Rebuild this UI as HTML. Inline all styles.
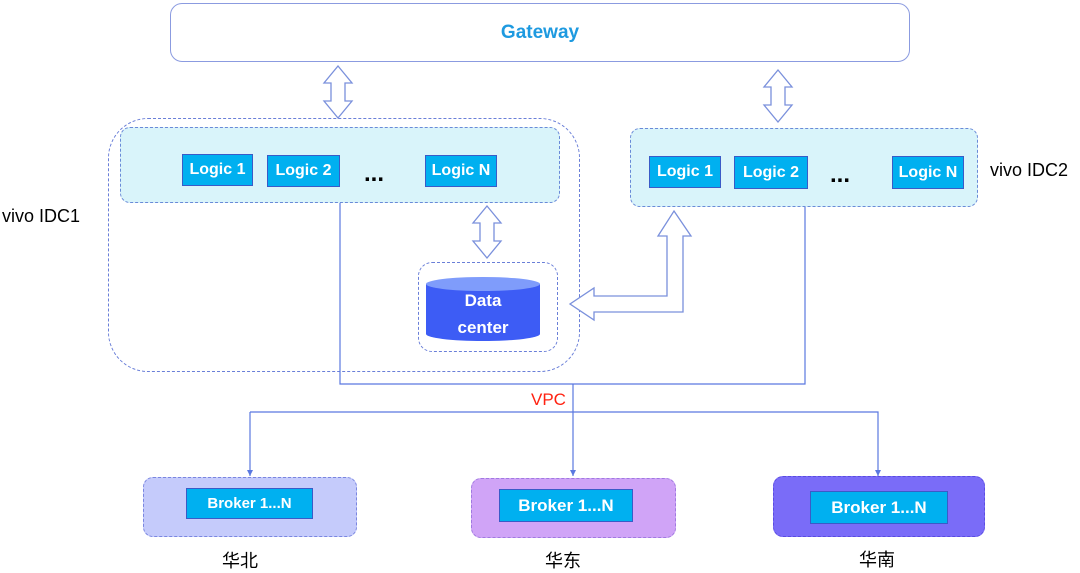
<!DOCTYPE html>
<html><head><meta charset="utf-8"><style>
body{margin:0;width:1080px;height:573px;background:#fff;position:relative;overflow:hidden;font-family:"Liberation Sans","Noto Sans CJK SC",sans-serif}
.a{position:absolute;box-sizing:border-box}
.lg{position:absolute;box-sizing:border-box;background:#00b0f0;border:1px solid #3a5bc7;color:#fff;font-weight:bold;font-size:16px;display:flex;align-items:center;justify-content:center}
.t{position:absolute;white-space:nowrap}
</style></head><body>
<div class="a" style="left:170px;top:3px;width:740px;height:59px;border:1px solid #8b9be0;border-radius:12px"></div>
<div class="t" style="left:0;width:1080px;top:22px;text-align:center;color:#1e9ae0;font-weight:bold;font-size:19px">Gateway</div>

<div class="a" style="left:108px;top:118px;width:472px;height:254px;border:1px dashed #6a7fd8;border-radius:40px"></div>
<div class="a" style="left:120px;top:127px;width:440px;height:76px;border:1px dashed #6a8ad8;border-radius:10px;background:#d9f4fa"></div>
<div class="lg" style="left:182px;top:154px;width:71px;height:32px">Logic 1</div>
<div class="lg" style="left:267px;top:155px;width:73px;height:32px">Logic 2</div>
<div class="t" style="left:364px;top:160px;font-size:24px;font-weight:bold">...</div>
<div class="lg" style="left:425px;top:155px;width:72px;height:32px">Logic N</div>

<div class="a" style="left:418px;top:262px;width:140px;height:90px;border:1px dashed #6a7fd8;border-radius:14px"></div>

<div class="a" style="left:630px;top:128px;width:348px;height:79px;border:1px dashed #6a8ad8;border-radius:10px;background:#d9f4fa"></div>
<div class="lg" style="left:649px;top:156px;width:72px;height:32px">Logic 1</div>
<div class="lg" style="left:734px;top:156px;width:74px;height:33px">Logic 2</div>
<div class="t" style="left:830px;top:161px;font-size:24px;font-weight:bold">...</div>
<div class="lg" style="left:892px;top:156px;width:72px;height:33px">Logic N</div>

<div class="t" style="left:990px;top:160px;font-size:18px">vivo IDC2</div>
<div class="t" style="left:2px;top:206px;font-size:18px">vivo IDC1</div>

<svg class="a" style="left:0;top:0" width="1080" height="573">
<defs><marker id="m" markerWidth="6" markerHeight="6" refX="6" refY="3" orient="auto" markerUnits="userSpaceOnUse"><path d="M0,0 L6,3 L0,6 z" fill="#5a78e0"/></marker></defs>
<g fill="#fff" stroke="#7a90dc" stroke-width="1.3">
<polygon points="338,66 352,83 345,83 345,101 352,101 338,118 324,101 331,101 331,83 324,83"/>
<polygon points="778,70 792,87 785,87 785,105 792,105 778,122 764,105 771,105 771,87 764,87"/>
<polygon points="487,206 501,223 494,223 494,241 501,241 487,258 473,241 480,241 480,223 473,223"/>
<polygon points="674,211 691,236 683,236 683,312 594,312 594,320 570,304 594,288 594,296 667,296 667,236 658,236"/>
</g>
<g stroke="#5a78e0" stroke-width="1.2" fill="none">
<polyline points="340,203 340,384 805,384 805,207"/>
<line x1="573" y1="384" x2="573" y2="476" marker-end="url(#m)"/>
<polyline points="250,412 878,412 878,476" marker-end="url(#m)"/>
<line x1="250" y1="412" x2="250" y2="476" marker-end="url(#m)"/>
</g>
<ellipse cx="483" cy="334" rx="57" ry="7" fill="#3d5cf5"/>
<rect x="426" y="284" width="114" height="50" fill="#3d5cf5"/>
<ellipse cx="483" cy="284" rx="57" ry="7" fill="#7f9cfb"/>
<text x="483" y="306" fill="#fff" font-weight="bold" font-size="17" text-anchor="middle" font-family="Liberation Sans">Data</text>
<text x="483" y="333" fill="#fff" font-weight="bold" font-size="17" text-anchor="middle" font-family="Liberation Sans">center</text>
</svg>
<div class="t" style="left:531px;top:390px;color:#f21;font-size:17px">VPC</div>

<div class="a" style="left:143px;top:477px;width:214px;height:60px;background:#c5cbfb;border:1px dashed #7a86e0;border-radius:10px"></div>
<div class="lg" style="left:186px;top:488px;width:127px;height:31px;font-size:15px">Broker 1...N</div>
<div class="a" style="left:471px;top:478px;width:205px;height:60px;background:#d0a4f7;border:1px dashed #a07ae0;border-radius:10px"></div>
<div class="lg" style="left:499px;top:489px;width:134px;height:33px;font-size:17px">Broker 1...N</div>
<div class="a" style="left:773px;top:476px;width:212px;height:61px;background:#7a6cf8;border:1px dashed #5a4ce0;border-radius:10px"></div>
<div class="lg" style="left:810px;top:491px;width:138px;height:33px;font-size:17px">Broker 1...N</div>

<div class="t" style="left:222px;top:547px;font-size:18px">华北</div>
<div class="t" style="left:545px;top:547px;font-size:18px">华东</div>
<div class="t" style="left:859px;top:546px;font-size:18px">华南</div>
</body></html>
